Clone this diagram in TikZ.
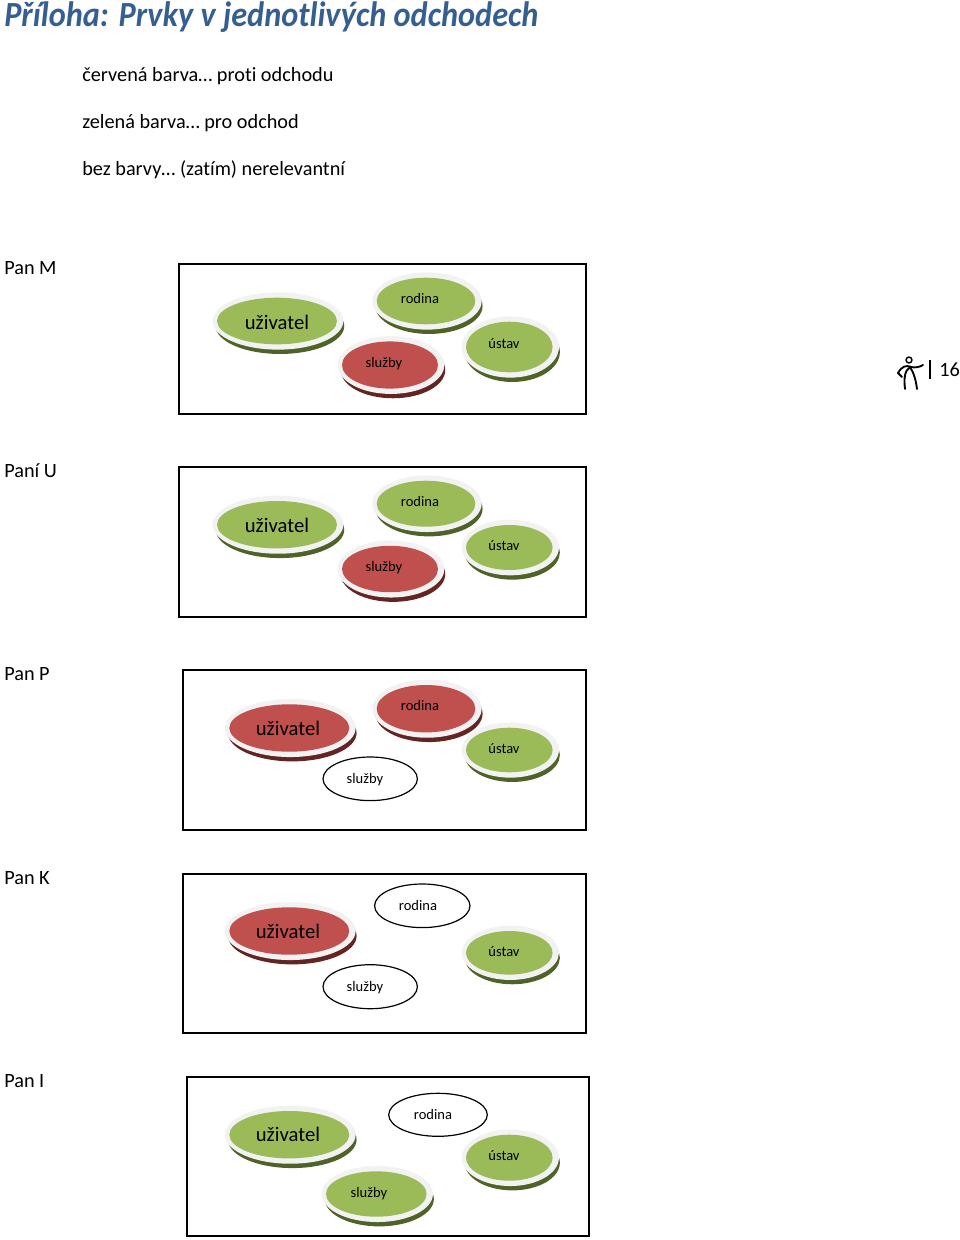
\documentclass[tikz,border=0pt]{standalone}
\usepackage{fontspec}
\setmainfont[Ligatures=CommonOff]{Carlito}
\usetikzlibrary{positioning}
\definecolor{titlecolor}{RGB}{54,95,145}
\definecolor{ringcolor}{RGB}{242,242,242}
\definecolor{greenfill}{RGB}{155,187,89}
\definecolor{greendark}{RGB}{79,98,40}
\definecolor{redfill}{RGB}{192,80,77}
\definecolor{reddark}{RGB}{99,36,35}
\tikzset{
  panelbox/.style={draw=black, line width=0.9pt},
  sidetext/.style={anchor=west, font=\fontsize{15.2}{18}\selectfont, inner sep=0pt, text height=1.5ex, text depth=.25ex, yshift=-3pt},
  ovaltext/.style={font=\fontsize{10.9}{13}\selectfont, inner sep=0pt, text height=1.5ex, text depth=.25ex, yshift=-1.5pt},
  usertext/.style={font=\fontsize{15.5}{18}\selectfont, inner sep=0pt, text height=1.5ex, text depth=.25ex, yshift=-3pt},
  plainoval/.style={draw=black, fill=white, line width=0.9pt},
  figureline/.style={line width=1.4pt, line cap=round}
}
\begin{document}
\begin{tikzpicture}[x=0.75pt, y=-0.75pt]
    \useasboundingbox (0, 0) rectangle (960, 1240);
    % Heading and colour key
    \node[anchor=west, inner sep=0pt, text=titlecolor, font=\fontsize{26.5}{32}\selectfont\bfseries\itshape] (title) at (4, 17.5) {\scalebox{0.915}[1]{Příloha: Prvky v jednotlivých odchodech}};
    \node[sidetext] (keyred) at (82, 74) {červená barva… proti odchodu};
    \node[sidetext] (keygreen) at (82, 121) {zelená barva… pro odchod};
    \node[sidetext] (keynone) at (82, 168) {bez barvy… (zatím) nerelevantní};
    % Panels with their names
    \foreach \name/\lab/\xa/\ya/\xb/\yb in {m/Pan M/179/264/586/414, u/Paní U/179/467/586/617, p/Pan P/183/670/586/830, k/Pan K/183/874/586/1033, i/Pan I/187/1077/589/1236} {
      \draw[panelbox] (\xa, \ya) rectangle (\xb, \yb);
      \node[sidetext] (name\name) at (4, \ya+3) {\lab};
    }
    % Coloured ovals: centre, radii, text position
    \foreach \name/\cx/\cy/\rx/\ry/\tx/\ty/\col/\lab/\sty in {
      um/277/321/60/23.3/277/322/green/uživatel/usertext,
      rm/426/301/49.3/23.3/420/298/green/rodina/ovaltext,
      sm/390/365/48/23.6/384/362/red/služby/ovaltext,
      sm2/509.3/347/43.3/25.3/504/343/green/ústav/ovaltext,
      uu/277/524.7/60/23.7/277/525/green/uživatel/usertext,
      ru/426/503.7/49.3/23/420/501/green/rodina/ovaltext,
      su/390/569/48/23.2/384/566/red/služby/ovaltext,
      su2/509.3/547.5/43.3/22.5/504/545/green/ústav/ovaltext,
      up/289.3/728/60/23.7/288/728/red/uživatel/usertext,
      rp/426/708.7/49.3/23.7/420/705/red/rodina/ovaltext,
      sp2/509.3/750/43.3/22.3/504/748/green/ústav/ovaltext,
      uk/289.3/931/60/23.7/288/931/red/uživatel/usertext,
      sk2/509.3/952.8/43.3/21.8/504/951/green/ústav/ovaltext,
      ui/289.3/1134.7/60/23.7/288/1134/green/uživatel/usertext,
      si/376.3/1194/50.3/22.7/369/1192/green/služby/ovaltext,
      si2/509.3/1157.7/43.3/23/504/1155/green/ústav/ovaltext} {
      \fill[\col dark] (\cx+3, \cy+5) ellipse ({\rx*0.75pt+3.2pt} and {\ry*0.75pt+3.5pt});
      \fill[ringcolor] (\cx+1, \cy) ellipse ({\rx*0.75pt+4pt} and {\ry*0.75pt+4pt});
      \fill[\col fill] (\cx, \cy) ellipse ({\rx*0.75pt} and {\ry*0.75pt});
      \node[\sty] (\name) at (\tx, \ty) {\lab};
    }
    % Ovals without colour
    \foreach \name/\cx/\cy/\rx/\ry/\tx/\ty/\lab in {
      sp/370.2/778.8/47.2/21.8/365/778/služby,
      rk/422.3/905.8/47.7/21.8/418/905/rodina,
      sk/370.2/986.7/47.2/22/365/986/služby,
      ri/438/1114.8/49.3/21.5/433/1114/rodina} {
      \draw[plainoval] (\cx, \cy) ellipse ({\rx*0.75pt} and {\ry*0.75pt});
      \node[ovaltext] (\name) at (\tx, \ty) {\lab};
    }
    % Page number with the little figure
    \draw[line width=1.1pt] (909, 360) circle (2.2pt);
    \draw[figureline] (898, 373) .. controls (902, 366) and (906, 365) .. (911, 367) .. controls (915, 368) and (920, 367) .. (923, 365);
    \draw[figureline] (898, 373) -- (902, 377);
    \draw[figureline] (905, 389) .. controls (904, 380) and (904, 371) .. (910, 367) .. controls (914, 373) and (916, 381) .. (917, 389);
    \draw[line width=0.9pt] (930, 360) -- (930, 379);
    \node[sidetext] (pagenum) at (939, 369) {16};
\end{tikzpicture}
\end{document}
